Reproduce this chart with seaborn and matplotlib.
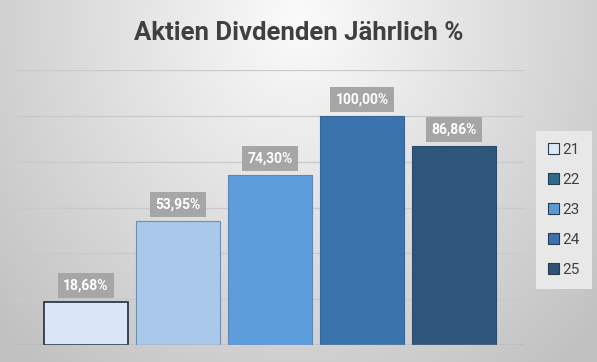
import numpy as np
import pandas as pd
import matplotlib
matplotlib.use('Agg')
import matplotlib.pyplot as plt
import matplotlib.patches as mpatches
import seaborn as sns

# Daten
jahre = ['21', '22', '23', '24', '25']
werte = [18.68, 53.95, 74.30, 100.00, 86.86]
labels = ['18,68%', '53,95%', '74,30%', '100,00%', '86,86%']
bar_farben = ['#dae6f5', '#a9c8ea', '#5e9ddc', '#3b73ad', '#30557b']
rand_farben = ['#1e2d3d', '#6f8fb3', '#5b86b5', '#35679a', '#2a4a6b']
legende_farben = ['#dce9f7', '#2f6a8c', '#5b9bd5', '#3a72ad', '#2f5175']

df = pd.DataFrame({'jahr': jahre, 'wert': werte})

sns.set_theme(style='white')
plt.rcParams['font.family'] = ['Liberation Sans Narrow', 'Roboto', 'DejaVu Sans']

W, H = 597, 362
fig = plt.figure(figsize=(W / 100, H / 100), dpi=100)

# Hintergrund mit radialem Verlauf
bg = fig.add_axes([0, 0, 1, 1])
yy, xx = np.mgrid[0:H, 0:W]
d = np.sqrt(((xx - W * 0.5) / (W * 0.6)) ** 2 + ((yy - H * 0.05) / (H * 1.1)) ** 2)
grau = np.clip(0.985 - 0.2 * d, 0.76, 0.985)
bg.imshow(np.dstack([grau, grau, grau]), aspect='auto', extent=[0, 1, 0, 1])
bg.axis('off')

ax = fig.add_axes([16 / W, (H - 345) / H, (524 - 16) / W, (345 - 70) / H])
ax.patch.set_alpha(0)
sns.barplot(data=df, x='jahr', y='wert', hue='jahr', palette=bar_farben,
            width=0.92, legend=False, ax=ax, saturation=1)

for i, p in enumerate(ax.patches):
    p.set_edgecolor(rand_farben[i])
    p.set_linewidth(1.2 if i == 0 else 0.8)
    p.set_zorder(3)
    x = p.get_x() + p.get_width() / 2
    ax.text(x, p.get_height() + 7.2, labels[i], ha='center', va='center',
            color='white', fontsize=10, fontweight='bold', zorder=5,
            bbox=dict(boxstyle='square,pad=0.4', fc='#a6a6a6', ec='none'))

ax.set_ylim(0, 120)
ax.set_xlim(-0.76, 4.76)
ax.set_yticks(np.arange(0, 121, 20))
ax.yaxis.grid(True, color='#c9c9c9', linewidth=0.9, zorder=0)
ax.grid(axis='x', visible=False)
ax.axhline(0, color='#9a9a9a', linewidth=1, zorder=4)
ax.set_xticks([])
ax.set_yticklabels([])
ax.tick_params(left=False, bottom=False)
ax.set_xlabel('')
ax.set_ylabel('')
for s in ax.spines.values():
    s.set_visible(False)

handles = [mpatches.Patch(facecolor=c, edgecolor='#2b3a4a', linewidth=0.8, label=j)
           for c, j in zip(legende_farben, jahre)]
leg = fig.legend(handles=handles, loc='center', bbox_to_anchor=(564 / W, 1 - 210 / H),
                 frameon=True, fontsize=11, handlelength=0.75, handleheight=0.75,
                 handletextpad=0.2, labelspacing=1.05, borderpad=0.5)
leg.get_frame().set_facecolor('#e8e8e8')
leg.get_frame().set_edgecolor('none')
leg.get_frame().set_alpha(1)
leg.get_frame().set_boxstyle('square')
for t in leg.get_texts():
    t.set_color('#404040')

fig.text(0.5, 1 - 33 / H, 'Aktien Divdenden Jährlich %', ha='center', va='center',
         fontsize=18.5, fontweight='bold', color='#404040')

fig.savefig('out.png', dpi=100)
